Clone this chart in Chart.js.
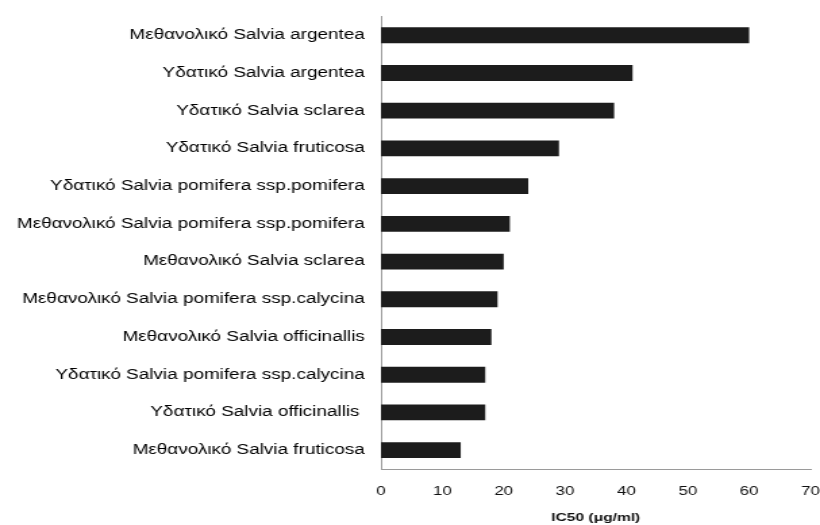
<!DOCTYPE html>
<html>
<head>
<meta charset="utf-8">
<script src="https://cdn.jsdelivr.net/npm/chart.js@4"></script>
<style>
  html, body { margin: 0; padding: 0; background: #fff; }
  #wrap { width: 820px; height: 525px; }
  /* the original figure is stretched sideways, so the canvas is drawn narrower and widened by CSS */
  #myChart { display: block; width: 820px; height: 525px; }
</style>
</head>
<body>
<div id="wrap"><canvas id="myChart" width="607" height="525" style="width:820px;height:525px"></canvas></div>
<script>
// Εκχυλίσματα (κατηγορίες) και τιμές IC50
var extracts = [
  'Μεθανολικό Salvia argentea',
  'Υδατικό Salvia argentea',
  'Υδατικό Salvia sclarea',
  'Υδατικό Salvia fruticosa',
  'Υδατικό Salvia pomifera ssp.pomifera',
  'Μεθανολικό Salvia pomifera ssp.pomifera',
  'Μεθανολικό Salvia sclarea',
  'Μεθανολικό Salvia pomifera ssp.calycina',
  'Μεθανολικό Salvia officinallis',
  'Υδατικό Salvia pomifera ssp.calycina',
  'Υδατικό Salvia officinallis ',
  'Μεθανολικό Salvia fruticosa'
];
var ic50 = [60, 41, 38, 29, 24, 21, 20, 19, 18, 17, 17, 13];
var xTicks = [0, 10, 20, 30, 40, 50, 60, 70];
var xTitle = 'IC50 (μg/ml)';

var ctx = document.getElementById('myChart').getContext('2d');
var myChart = new Chart(ctx, {
  type: 'bar',
  data: {
    labels: extracts,
    datasets: [{
      data: ic50,
      backgroundColor: '#1c1c1c',
      borderWidth: 0,
      barPercentage: 0.42,
      categoryPercentage: 1
    }]
  },
  options: {
    indexAxis: 'y',
    responsive: false,
    animation: false,
    layout: { padding: { top: 15, right: 7, left: 0, bottom: 0 } },
    plugins: {
      legend: { display: false },
      tooltip: { enabled: false }
    },
    scales: {
      x: {
        min: 0,
        max: 70,
        afterBuildTicks: function (scale) {
          scale.ticks = xTicks.map(function (v) { return { value: v }; });
        },
        afterFit: function (scale) {
          scale.height = 56;
          scale.paddingLeft = 0;
          scale.paddingRight = 0;
        },
        grid: { display: false, drawTicks: true, tickLength: 4, tickColor: '#9a9a9a' },
        border: { display: true, color: '#9a9a9a', width: 1 },
        ticks: {
          color: '#111',
          padding: 11,
          maxRotation: 0,
          font: { family: 'Liberation Sans, Arial, sans-serif', size: 12.5 }
        },
        title: {
          display: true,
          text: xTitle,
          color: '#111',
          padding: { top: 0, bottom: 0 },
          font: { family: 'Liberation Sans, Arial, sans-serif', size: 11.5, weight: 'bold' }
        }
      },
      y: {
        afterFit: function (scale) { scale.width = 282; },
        grid: { display: false, drawTicks: true, tickLength: 4, tickColor: '#9a9a9a', offset: true },
        border: { display: true, color: '#9a9a9a', width: 1 },
        ticks: {
          color: '#000',
          padding: 8,
          autoSkip: false,
          font: { family: 'Liberation Sans, Arial, sans-serif', size: 14 }
        }
      }
    }
  }
});
</script>
</body>
</html>
